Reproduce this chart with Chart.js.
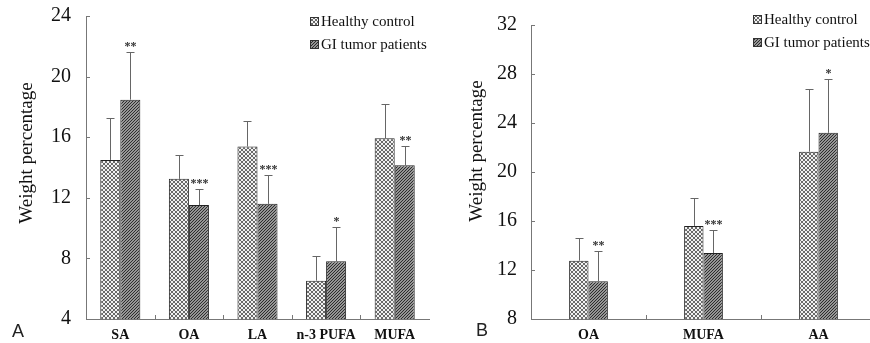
<!DOCTYPE html>
<html lang="en">
<head>
<meta charset="UTF-8" />
<title>Weight percentage</title>
<script src="https://cdn.jsdelivr.net/npm/chart.js@4.4.0/dist/chart.umd.min.js"></script>
<style>
  html, body { margin: 0; padding: 0; background: #fff; overflow: hidden; }
  .panel { position: absolute; top: 0; }
  .tag { position: absolute; font-family: "Liberation Sans", Arial, sans-serif; font-size: 18px; color: #222; }
</style>
</head>
<body>
<div class="panel" style="left:0;width:440px;height:343px"><canvas id="chartA" width="440" height="343"></canvas></div>
<div class="panel" style="left:440px;width:436px;height:343px"><canvas id="chartB" width="436" height="343"></canvas></div>
<div class="tag" style="left:12px;top:321px">A</div>
<div class="tag" style="left:476px;top:320px">B</div>

<script>
  // Panel A data (bar value and top of SD bar)
  const aLabels = ['SA', 'OA', 'LA', 'n-3 PUFA', 'MUFA'];
  const aHealthy = [14.5, 13.25, 15.38, 6.53, 15.93];
  const aHealthyErr = [17.27, 14.8, 17.1, 8.15, 18.2];
  const aTumor = [18.48, 11.52, 11.6, 7.82, 14.15];
  const aTumorErr = [21.65, 12.6, 13.5, 10.07, 15.4];
  const aStars = ['**', '***', '***', '*', '**'];
  const aTicks = [4, 8, 12, 16, 20, 24];

  // Panel B data
  const bLabels = ['OA', 'MUFA', 'AA'];
  const bHealthy = [12.76, 15.6, 21.66];
  const bHealthyErr = [14.64, 17.88, 26.8];
  const bTumor = [11.08, 13.39, 23.2];
  const bTumorErr = [13.58, 15.24, 27.62];
  const bStars = ['**', '***', '*'];
  const bTicks = [8, 12, 16, 20, 24, 28, 32];

  const legendNames = ['Healthy control', 'GI tumor patients'];
  const serif = '"Liberation Serif", "Times New Roman", serif';

  // hatch fills
  function makePattern(size, bg, fg, pixels) {
    const c = document.createElement('canvas');
    c.width = size; c.height = size;
    const g = c.getContext('2d');
    g.fillStyle = bg;
    g.fillRect(0, 0, size, size);
    g.fillStyle = fg;
    pixels.forEach(p => g.fillRect(p[0], p[1], 1, 1));
    return g.createPattern(c, 'repeat');
  }
  const crossHatch = makePattern(4, '#f2f2f2', '#6a6a6a',
    [[0,0],[1,1],[2,2],[3,3],[0,3],[1,2],[2,1],[3,0]]);
  const diagHatch = makePattern(3, '#969696', '#2e2e2e',
    [[2,0],[1,1],[0,2]]);

  // inward tick marks
  const innerTicks = {
    id: 'innerTicks',
    afterDraw(chart) {
      const ctx = chart.ctx, x = chart.scales.x, y = chart.scales.y;
      ctx.save();
      ctx.strokeStyle = '#777';
      ctx.lineWidth = 1;
      ctx.beginPath();
      y.ticks.forEach(t => {
        const py = Math.round(y.getPixelForValue(t.value)) + 0.5;
        ctx.moveTo(y.right, py); ctx.lineTo(y.right + 4, py);
      });
      for (let i = 1; i < x.ticks.length; i++) {
        const px = Math.round((x.getPixelForValue(i - 1) + x.getPixelForValue(i)) / 2) + 0.5;
        ctx.moveTo(px, x.top); ctx.lineTo(px, x.top - 4);
      }
      ctx.stroke();
      ctx.restore();
    }
  };

  // SD bars with significance stars
  const errorBars = {
    id: 'errorBars',
    afterDatasetsDraw(chart) {
      const ctx = chart.ctx, y = chart.scales.y;
      ctx.save();
      chart.data.datasets.forEach((ds, di) => {
        const meta = chart.getDatasetMeta(di);
        meta.data.forEach((bar, i) => {
          const px = Math.round(bar.x) + 0.5;
          const top = Math.round(y.getPixelForValue(ds.errTop[i])) + 0.5;
          ctx.strokeStyle = '#666';
          ctx.lineWidth = 1;
          ctx.beginPath();
          ctx.moveTo(px, bar.y); ctx.lineTo(px, top);
          ctx.moveTo(px - 4, top); ctx.lineTo(px + 4, top);
          ctx.stroke();
          if (ds.stars && ds.stars[i]) {
            ctx.fillStyle = '#333';
            ctx.font = 'bold 12px ' + serif;
            ctx.textAlign = 'center';
            ctx.textBaseline = 'alphabetic';
            ctx.fillText(ds.stars[i], px, top - 3);
          }
        });
      });
      ctx.restore();
    }
  };

  // legend and rotated axis title
  const decorations = {
    id: 'decorations',
    afterDraw(chart, args, opts) {
      const ctx = chart.ctx;
      ctx.save();
      ctx.font = '15px ' + serif;
      ctx.textBaseline = 'middle';
      ctx.textAlign = 'left';
      chart.data.datasets.forEach((ds, i) => {
        const ly = opts.legendY + i * 23;
        ctx.fillStyle = ds.backgroundColor;
        ctx.fillRect(opts.legendX, ly - 4, 8, 8);
        ctx.strokeStyle = '#333';
        ctx.lineWidth = 1;
        ctx.strokeRect(opts.legendX + 0.5, ly - 3.5, 8, 8);
        ctx.fillStyle = '#111';
        ctx.fillText(ds.label, opts.legendX + 11, ly + 1);
      });
      ctx.translate(opts.titleX, opts.titleY);
      ctx.rotate(-Math.PI / 2);
      ctx.textAlign = 'center';
      ctx.font = '19px ' + serif;
      ctx.fillStyle = '#111';
      ctx.fillText('Weight percentage', 0, 0);
      ctx.restore();
    }
  };

  function makeChart(id, labels, healthy, hErr, tumor, tErr, stars, ticks, cfg) {
    const ctx = document.getElementById(id).getContext('2d');
    return new Chart(ctx, {
      type: 'bar',
      data: {
        labels: labels,
        datasets: [{
          label: legendNames[0],
          data: healthy,
          errTop: hErr,
          backgroundColor: crossHatch,
          borderColor: '#222',
          borderWidth: 1,
          borderSkipped: 'bottom'
        }, {
          label: legendNames[1],
          data: tumor,
          errTop: tErr,
          stars: stars,
          backgroundColor: diagHatch,
          borderColor: '#222',
          borderWidth: 1,
          borderSkipped: 'bottom'
        }]
      },
      options: {
        responsive: false,
        animation: false,
        layout: { padding: { top: cfg.top, right: cfg.right, left: 0, bottom: 0 } },
        datasets: { bar: { barPercentage: 1, categoryPercentage: cfg.catPct } },
        plugins: {
          legend: { display: false },
          tooltip: { enabled: false },
          decorations: cfg.deco
        },
        scales: {
          x: {
            grid: { drawOnChartArea: false, drawTicks: false },
            border: { color: '#777', width: 1 },
            ticks: { color: '#111', font: { family: serif, size: 14, weight: 'bold' }, padding: 8 },
            afterFit(s) { s.height = 24; }
          },
          y: {
            min: ticks[0],
            max: ticks[ticks.length - 1],
            // invisible outer ticks give the label gap without extra top/bottom padding
            grid: { drawOnChartArea: false, drawTicks: true, tickLength: cfg.tickPad, tickColor: 'rgba(0,0,0,0)' },
            border: { color: '#777', width: 1 },
            ticks: { stepSize: ticks[1] - ticks[0], color: '#111', font: { family: serif, size: 20 }, padding: 0 },
            afterFit(s) { s.width = cfg.axisW; }
          }
        }
      },
      plugins: [errorBars, innerTicks, decorations]
    });
  }

  makeChart('chartA', aLabels, aHealthy, aHealthyErr, aTumor, aTumorErr, aStars, aTicks, {
    top: 16, right: 11, catPct: 0.584, axisW: 86, tickPad: 15,
    deco: { legendX: 310, legendY: 21, titleX: 27, titleY: 153 }
  });

  makeChart('chartB', bLabels, bHealthy, bHealthyErr, bTumor, bTumorErr, bStars, bTicks, {
    top: 25, right: 0, catPct: 0.337, axisW: 91, tickPad: 14,
    deco: { legendX: 313, legendY: 19, titleX: 37, titleY: 151 }
  });
</script>
</body>
</html>
